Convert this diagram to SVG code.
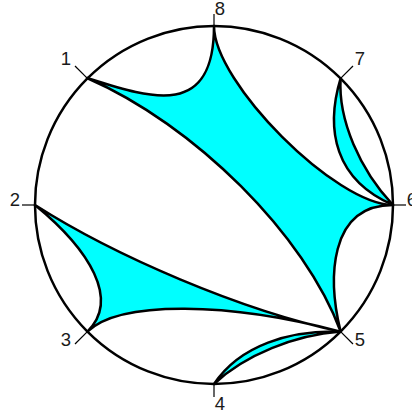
<svg xmlns="http://www.w3.org/2000/svg" width="412" height="417" viewBox="0 0 412 417">
<style>
.rg{fill:#00FFFF;stroke:#000;stroke-width:2.5;stroke-linejoin:round}
.bd{fill:none;stroke:#000;stroke-width:2.5}
.tk{stroke:#000;stroke-width:1.2}
.lb{font-family:"Liberation Sans",Arial,sans-serif;font-size:18.5px;fill:#1a1a1a;text-anchor:middle}
</style>
<rect width="412" height="417" fill="#fff"/>
<g id="connectors">
<path id="regionA" class="rg" d="M87,78 C150,98 214,120 214,26 C214,83 336,205 393,205 C328,205 328,280 340.6,331.6 C305,235 195,125 87,78 Z"/>
<path id="regionB" class="rg" d="M340.6,78.4 C325,130 335,180 393,205 C360,170 338,120 340.6,78.4 Z"/>
<path id="regionC" class="rg" d="M35,205 C115,256 240,310 340.6,331.6 C230,302 120,300 87.4,331.6 C120,300 90,250 35,205 Z"/>
<path id="regionD" class="rg" d="M214,384 C240,345 290,330 340.6,331.6 C295,335 245,355 214,384 Z"/>
</g>
<circle id="boundary" class="bd" cx="214" cy="205" r="179"/>
<g id="n1"><line class="tk" x1="87.4" y1="78.4" x2="75" y2="66"/><text class="lb" x="66" y="65">1</text></g>
<g id="n2"><line class="tk" x1="35" y1="205" x2="22" y2="205"/><text class="lb" x="15" y="206">2</text></g>
<g id="n3"><line class="tk" x1="87.4" y1="331.6" x2="75" y2="344"/><text class="lb" x="66" y="346">3</text></g>
<g id="n4"><line class="tk" x1="214" y1="384" x2="214" y2="397"/><text class="lb" x="220" y="410">4</text></g>
<g id="n5"><line class="tk" x1="340.6" y1="331.6" x2="353" y2="344"/><text class="lb" x="360" y="346">5</text></g>
<g id="n6"><line class="tk" x1="393" y1="205" x2="406" y2="205"/><text class="lb" x="412" y="206">6</text></g>
<g id="n7"><line class="tk" x1="340.6" y1="78.4" x2="353" y2="66"/><text class="lb" x="360" y="65">7</text></g>
<g id="n8"><line class="tk" x1="214" y1="26" x2="214" y2="14"/><text class="lb" x="220" y="15">8</text></g>
</svg>
